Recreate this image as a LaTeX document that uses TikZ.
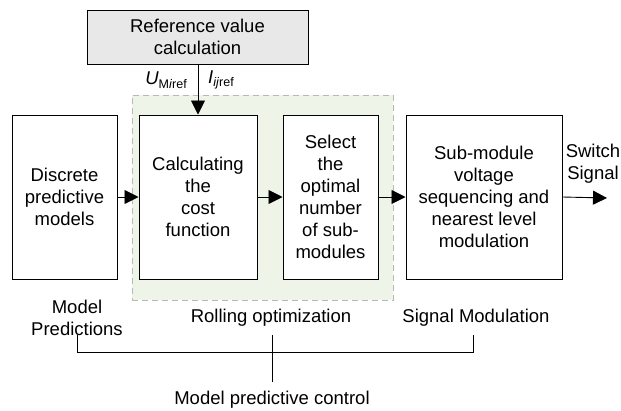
\documentclass[tikz,border=0pt]{standalone}
\usepackage{fontspec}
\setmainfont{Liberation Sans}
\usetikzlibrary{arrows.meta}
\definecolor{greenfill}{HTML}{EEF4E8}
\definecolor{greenedge}{HTML}{B4BAB4}
\definecolor{topfill}{HTML}{E8E8E8}
\newcommand{\sbx}[1]{\raisebox{-3.5pt}{\fontsize{12.5}{12.5}\selectfont #1}}
\begin{document}
\begin{tikzpicture}[x=1pt,y=-1pt,
  txt/.style={font=\fontsize{18.5}{22}\selectfont, align=center, inner sep=1pt},
  blk/.style={txt, draw, line width=1pt, fill=white},
  arr/.style={-{Triangle[length=14pt,width=14pt]}, line width=0.9pt},
  brk/.style={line width=0.9pt}]
\useasboundingbox (0,0) rectangle (621,410);
% rolling optimization region
\node[draw=greenedge, dashed, dash pattern=on 6pt off 4pt, line width=1pt, fill=greenfill,
      minimum width=261pt, minimum height=205pt, inner sep=0pt] (green) at (262.5,197.5) {};
% blocks
\node[blk, fill=topfill, minimum width=221pt, minimum height=54pt] (ref) at (197.5,37) {Reference value\\calculation};
\node[blk, minimum width=105pt, minimum height=164pt] (disc) at (64.5,197) {Discrete\\predictive\\models};
\node[blk, minimum width=118pt, minimum height=164pt] (calc) at (198,197) {Calculating\\the\\cost\\function};
\node[blk, minimum width=95pt, minimum height=164pt] (sel) at (330.5,197) {Select\\the\\optimal\\number\\of sub-\\modules};
\node[blk, minimum width=156pt, minimum height=164pt] (sub) at (484,197) {Sub-module\\voltage\\sequencing and\\nearest level\\modulation};
% labels
\node[txt, anchor=east] (ulab) at (188,80) {\textit{U}\sbx{M\textit{i}ref}};
\node[txt, anchor=west] (ilab) at (207,80) {\textit{I}\sbx{\textit{ij}ref}};
\node[txt] (sw) at (593,164) {Switch\\Signal};
\coordinate (out) at (607,198);
% connectors
\draw[arr] (ref.south -| calc.north) -- (calc.north);
\draw[arr] (disc.east) -- (calc.west);
\draw[arr] (calc.east) -- (sel.west);
\draw[arr] (sel.east) -- (sub.west);
\draw[arr] (sub.east) -- (out);
% bottom labels
\node[txt] (mp) at (77,317.5) {Model\\Predictions};
\node[txt] (ro) at (271,318) {Rolling optimization};
\node[txt] (sm) at (476,318) {Signal Modulation};
\node[txt] (mpc) at (272,400) {Model predictive control};
\coordinate (bl) at (77,352);
\coordinate (br) at (473,352);
\coordinate (brt) at (473,335);
\coordinate (blt) at (77,335);
\coordinate (mt) at (272,335);
\coordinate (mb) at (272,382);
\draw[brk] (blt) -- (bl) -- (br) -- (brt);
\draw[brk] (mt) -- (mb);
\end{tikzpicture}
\end{document}
